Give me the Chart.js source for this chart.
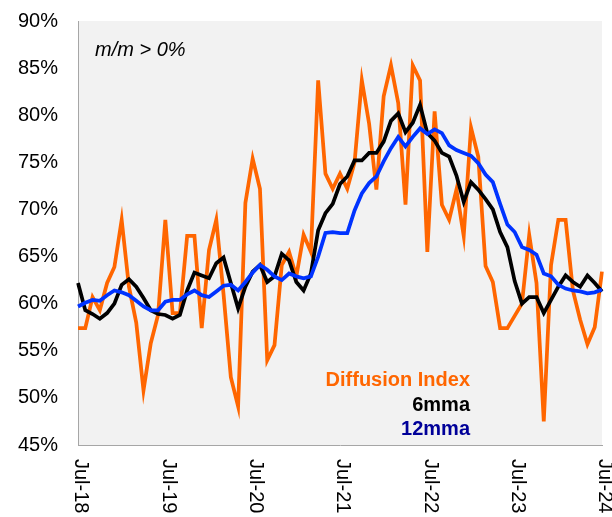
<!DOCTYPE html>
<html>
<head>
<meta charset="utf-8">
<title>Diffusion Index</title>
<script src="https://cdn.jsdelivr.net/npm/chart.js@4.4.1/dist/chart.umd.min.js"></script>
<style>
  html, body { margin: 0; padding: 0; background: #fff; }
  #wrap { width: 612px; height: 517px; position: relative; }
</style>
</head>
<body>
<div id="wrap"><canvas id="chart" width="612" height="517"></canvas></div>
<script>
// Monthly, Jul-18 .. Jul-24 (73 points)
const startYear = 2018;
const monthNames = ['Jan', 'Feb', 'Mar', 'Apr', 'May', 'Jun', 'Jul', 'Aug', 'Sep', 'Oct', 'Nov', 'Dec'];

// only every July gets a label on the x axis
const xTickIndex = [0, 12, 24, 36, 48, 60, 72];
const xTickLabels = ['Jul-18', 'Jul-19', 'Jul-20', 'Jul-21', 'Jul-22', 'Jul-23', 'Jul-24'];

const yTicks = [45, 50, 55, 60, 65, 70, 75, 80, 85, 90];

const diffusion = [
  57.4, 57.4, 60.7, 59.3, 62.2, 63.9, 68.9, 61.8, 58.0, 50.8, 55.8, 58.8,
  68.9, 59.0, 59.0, 67.2, 67.2, 57.4, 65.7, 68.9, 61.0, 52.2, 49.1, 70.7,
  75.4, 72.2, 54.0, 55.6, 64.1, 65.5, 62.9, 67.3, 65.5, 83.7, 73.8, 72.2,
  73.8, 72.2, 75.0, 83.7, 79.1, 72.1, 82.0, 85.3, 81.3, 70.5, 85.3, 83.7,
  65.5, 80.4, 70.5, 68.9, 72.1, 67.2, 78.7, 75.6, 64.0, 62.3, 57.4, 57.4,
  58.7, 60.0, 67.3, 62.2, 47.5, 64.1, 68.9, 68.9, 61.4, 58.3, 55.7, 57.5,
  63.4
];

const mma6 = [
  62.2, 59.3, 58.9, 58.4, 59.0, 60.0, 62.0, 62.6, 61.8, 60.6, 59.3, 58.9,
  58.8, 58.4, 58.8, 61.4, 63.3, 63.0, 62.7, 64.3, 64.9, 62.2, 59.5, 61.8,
  63.4, 64.1, 62.3, 62.9, 65.3, 64.6, 62.3, 61.4, 63.2, 67.8, 69.6, 70.6,
  72.7, 73.5, 75.2, 75.2, 76.0, 76.0, 77.2, 79.4, 80.2, 78.2, 79.2, 81.1,
  78.1, 77.3, 76.0, 75.6, 73.6, 70.8, 72.9, 72.1, 71.1, 70.0, 67.6, 66.0,
  62.4, 60.0, 60.7, 60.7, 59.0, 60.4, 61.8, 63.0, 62.3, 61.8, 63.0, 62.2,
  61.3
];

const mma12 = [
  59.7, 60.1, 60.4, 60.3, 60.9, 61.4, 61.2, 60.9, 60.3, 59.7, 59.3, 59.3,
  60.2, 60.4, 60.4, 61.0, 61.4, 60.9, 60.7, 61.3, 61.9, 62.0, 61.4, 62.3,
  63.3, 64.1, 63.6, 62.9, 62.5, 63.2, 62.9, 62.7, 62.9, 65.0, 67.5, 67.6,
  67.5, 67.5, 69.9, 71.7, 72.8, 73.5, 75.1, 76.5, 77.7, 76.7, 77.7, 78.6,
  78.0, 78.5, 78.1, 76.8, 76.3, 76.0, 75.7, 74.9, 73.7, 72.9, 70.6, 68.4,
  67.6, 66.0, 65.7, 65.2, 63.2, 62.9, 62.0, 61.6, 61.4, 61.3, 61.1, 61.2,
  61.5
];

// category labels like "Jul-18"
const labels = diffusion.map((_, i) => {
  const m = (6 + i) % 12;
  const y = startYear + Math.floor((6 + i) / 12);
  return monthNames[m] + '-' + String(y).slice(2);
});

const FONT = "'Liberation Sans', Arial, sans-serif";
const ORANGE = '#ff6600';
const BLUE = '#0033ff';

// grey plot background
const plotBg = {
  id: 'plotBg',
  beforeDraw(chart) {
    const { ctx, chartArea: a } = chart;
    ctx.save();
    ctx.fillStyle = '#f2f2f2';
    ctx.fillRect(a.left, a.top, a.right - a.left, a.bottom - a.top);
    ctx.restore();
  }
};

// x labels read top-to-bottom, and the text notes inside the plot
const extras = {
  id: 'extras',
  afterDraw(chart) {
    const { ctx, chartArea: a } = chart;
    const xs = chart.scales.x;
    ctx.save();
    ctx.fillStyle = '#000';
    ctx.font = '20px ' + FONT;
    ctx.textAlign = 'left';
    ctx.textBaseline = 'middle';
    xTickIndex.forEach((idx, k) => {
      const x = xs.getPixelForValue(idx);
      ctx.save();
      ctx.translate(x + 3, a.bottom + 14);
      ctx.rotate(Math.PI / 2);
      ctx.fillText(xTickLabels[k], 0, 0);
      ctx.restore();
    });

    ctx.textBaseline = 'alphabetic';
    ctx.font = 'italic 20px ' + FONT;
    ctx.fillText('m/m > 0%', 95, 56);

    ctx.textAlign = 'right';
    ctx.font = 'bold 20px ' + FONT;
    ctx.fillStyle = ORANGE;
    ctx.fillText('Diffusion Index', 470, 386);
    ctx.fillStyle = '#000';
    ctx.fillText('6mma', 470, 411);
    ctx.fillStyle = '#000099';
    ctx.fillText('12mma', 470, 435);
    ctx.restore();
  }
};

new Chart(document.getElementById('chart'), {
  type: 'line',
  data: {
    labels: labels,
    datasets: [
      { label: 'Diffusion Index', data: diffusion, borderColor: ORANGE, borderWidth: 3.75, order: 3 },
      { label: '6mma', data: mma6, borderColor: '#000000', borderWidth: 3.75, order: 2 },
      { label: '12mma', data: mma12, borderColor: BLUE, borderWidth: 3.75, order: 1 }
    ]
  },
  options: {
    responsive: false,
    animation: false,
    layout: { padding: { left: 0, top: 0, right: 10, bottom: 0 } },
    elements: {
      point: { radius: 0 },
      line: { tension: 0, borderJoinStyle: 'miter' }
    },
    plugins: {
      legend: { display: false },
      tooltip: { enabled: false }
    },
    scales: {
      x: {
        type: 'category',
        offset: false,
        grid: { display: false, drawTicks: false },
        border: { display: true, color: '#a6a6a6', width: 1 },
        ticks: { display: false },
        afterFit(scale) { scale.height = 72; }
      },
      y: {
        min: 45,
        max: 90,
        afterBuildTicks(scale) { scale.ticks = yTicks.map(v => ({ value: v })); },
        grid: { display: false, drawTicks: false },
        border: { display: true, color: '#a6a6a6', width: 1 },
        ticks: {
          padding: 20,
          color: '#000',
          font: { family: FONT, size: 20 },
          callback: v => v + '%'
        },
        afterFit(scale) {
          // fixed axis width and top gap (tick padding would otherwise push the plot down)
          scale.width = 78;
          scale.paddingTop = 21;
          scale.paddingBottom = 0;
        }
      }
    }
  },
  plugins: [plotBg, extras]
});
</script>
</body>
</html>
